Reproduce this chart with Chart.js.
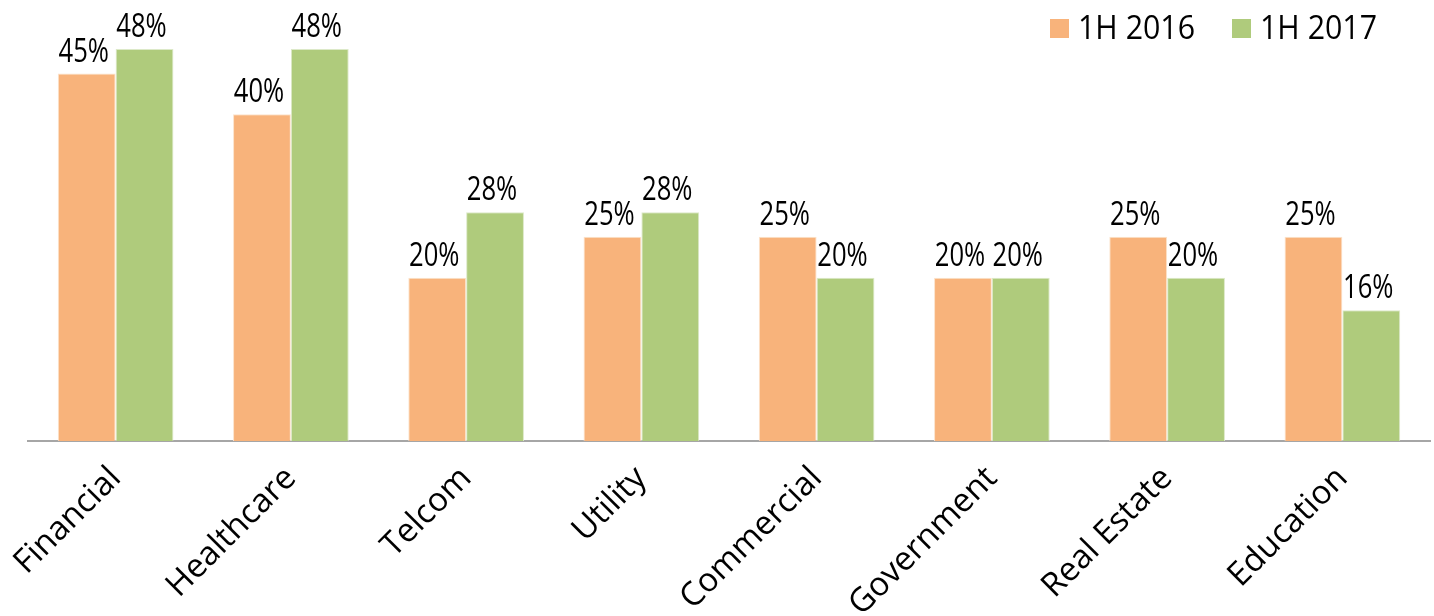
<!DOCTYPE html>
<html>
<head>
<meta charset="utf-8">
<title>1H 2016 vs 1H 2017</title>
<script src="https://cdn.jsdelivr.net/npm/chart.js@4/dist/chart.umd.min.js"></script>
<style>
  html, body { margin: 0; padding: 0; background: #fff; }
  #wrap { position: relative; width: 1434px; height: 616px; }
</style>
</head>
<body>
<div id="wrap"><canvas id="chart"></canvas></div>
<script>
const categories = ['Financial', 'Healthcare', 'Telcom', 'Utility', 'Commercial', 'Government', 'Real Estate', 'Education']
const h12016 = [45, 40, 20, 25, 25, 20, 25, 25]
const h12017 = [48, 48, 28, 28, 20, 20, 20, 16]
const seriesNames = ['1H 2016', '1H 2017']
const seriesColors = ['#F8B37B', '#AFCB7C']

const labelFont = '32px "Open Sans", sans-serif'
const legendFont = '33px "Open Sans", sans-serif'

// value labels above each bar (squeezed a bit, the original face is narrow)
const barLabels = {
    id: 'barLabels',
    afterDatasetsDraw(chart) {
        const ctx = chart.ctx
        const sx = 0.8
        ctx.save()
        ctx.font = labelFont
        ctx.fillStyle = '#000'
        ctx.textAlign = 'center'
        ctx.textBaseline = 'alphabetic'
        ctx.scale(sx, 1)
        chart.data.datasets.forEach((ds, i) => {
            chart.getDatasetMeta(i).data.forEach((bar, j) => {
                ctx.fillText(ds.data[j] + '%', (bar.x - 3) / sx, bar.y - 12)
            })
        })
        ctx.restore()
    }
}

// legend in the top right corner
const cornerLegend = {
    id: 'cornerLegend',
    afterDraw(chart) {
        const ctx = chart.ctx
        const sx = 0.92
        ctx.save()
        ctx.font = legendFont
        ctx.textBaseline = 'alphabetic'
        let x = 1050
        chart.data.datasets.forEach(ds => {
            ctx.fillStyle = ds.backgroundColor
            ctx.fillRect(x, 19, 19, 19)
            ctx.save()
            ctx.scale(sx, 1)
            ctx.fillStyle = '#000'
            ctx.fillText(ds.label, (x + 28) / sx, 39)
            ctx.restore()
            x += 182
        })
        ctx.restore()
    }
}

new Chart(document.getElementById('chart'), {
    type: 'bar',
    data: {
        labels: categories,
        datasets: [
            { label: seriesNames[0], data: h12016, backgroundColor: seriesColors[0], borderColor: '#FCE3CC', borderWidth: 1 },
            { label: seriesNames[1], data: h12017, backgroundColor: seriesColors[1], borderColor: '#DCE9C8', borderWidth: 1 }
        ]
    },
    options: {
        responsive: true,
        maintainAspectRatio: false,
        animation: false,
        layout: { padding: { left: 28, right: 4, top: 0, bottom: 0 } },
        datasets: {
            bar: { categoryPercentage: 0.66, barPercentage: 1 }
        },
        plugins: {
            legend: { display: false },
            tooltip: { enabled: false }
        },
        scales: {
            x: {
                grid: { display: false },
                border: { display: true, color: '#A6A6A6', width: 2 },
                ticks: {
                    color: '#000',
                    font: { family: '"Open Sans", sans-serif', size: 33 },
                    minRotation: 45,
                    maxRotation: 45,
                    autoSkip: false,
                    padding: 10
                },
                afterFit(scale) {
                    scale.height = 175
                    scale.paddingLeft = 0
                    scale.paddingRight = 0
                }
            },
            y: {
                display: false,
                min: 0,
                max: 54
            }
        }
    },
    plugins: [barLabels, cornerLegend]
})
</script>
</body>
</html>
